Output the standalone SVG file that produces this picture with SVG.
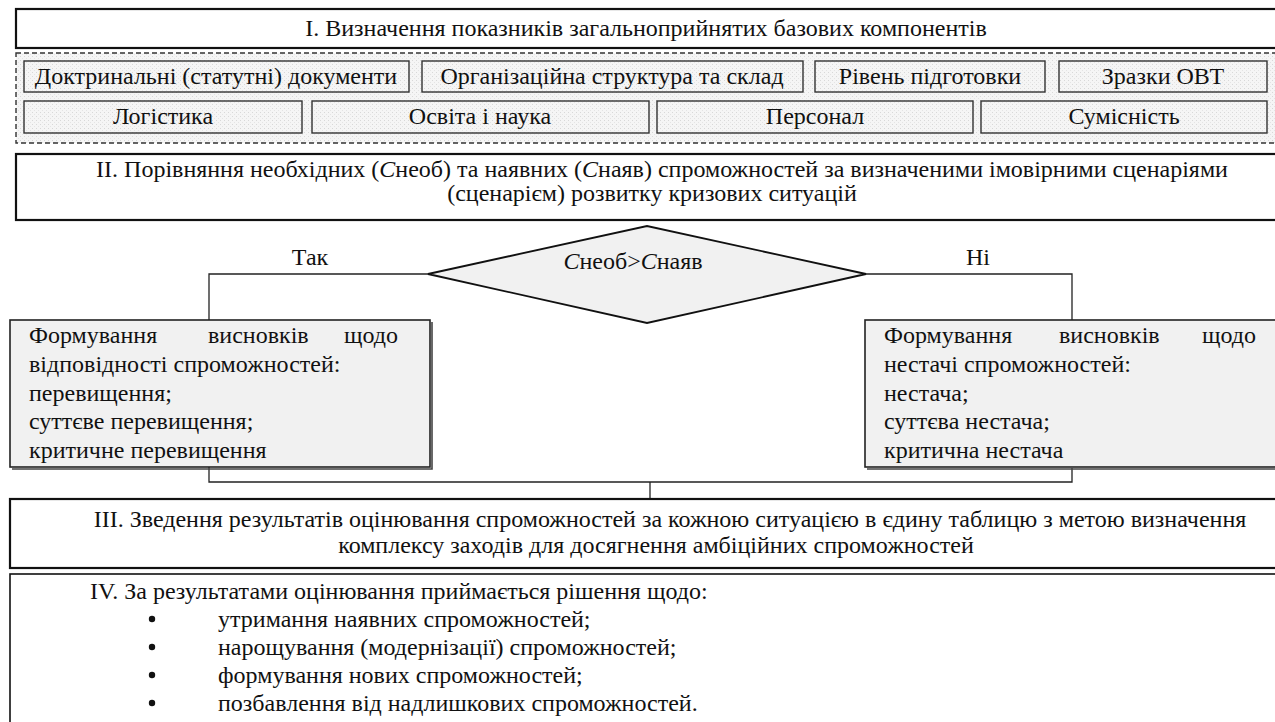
<svg xmlns="http://www.w3.org/2000/svg" width="1275" height="722" viewBox="0 0 1275 722">
<style>
text{fill:#111}
.c{text-anchor:middle}
.e{text-anchor:end}
.main{fill:#fff;stroke:#111;stroke-width:2.2}
.cell{fill:url(#dots);stroke:#333;stroke-width:1.4}
.side{fill:#f1f1f1;stroke:#222;stroke-width:1.6}
.shadow{fill:none;stroke:#444;stroke-width:1.6}
.conn{fill:none;stroke:#222;stroke-width:1.3}
</style>
<defs>
<pattern id="dots" width="4" height="4" patternUnits="userSpaceOnUse">
<rect width="4" height="4" fill="#f5f5f5"/>
<rect x="0" y="0" width="1" height="1" fill="#d8d8d8"/>
<rect x="2" y="2" width="1" height="1" fill="#e4e4e4"/>
</pattern>
</defs>
<rect width="1275" height="722" fill="#fff"/>

<g id="step1">
<rect class="main" x="16" y="9" width="1280" height="39"/>
<text class="c" x="646" y="36" font-family="Liberation Serif" font-size="24">I. Визначення показників загальноприйнятих базових компонентів</text>
</g>

<g id="components">
<rect x="16" y="53" width="1280" height="90" fill="url(#dots)" stroke="#333" stroke-width="1.4" stroke-dasharray="5,3"/>
<g id="c1"><rect class="cell" x="24" y="61" width="385" height="31"/><text class="c" x="216" y="84" font-family="Liberation Serif" font-size="24">Доктринальні (статутні) документи</text></g>
<g id="c2"><rect class="cell" x="422" y="61" width="381" height="31"/><text class="c" x="612" y="84" font-family="Liberation Serif" font-size="24">Організаційна структура та склад</text></g>
<g id="c3"><rect class="cell" x="815" y="61" width="230" height="31"/><text class="c" x="930" y="84" font-family="Liberation Serif" font-size="24">Рівень підготовки</text></g>
<g id="c4"><rect class="cell" x="1059" y="61" width="208" height="31"/><text class="c" x="1163" y="84" font-family="Liberation Serif" font-size="24">Зразки ОВТ</text></g>
<g id="c5"><rect class="cell" x="24" y="101" width="278" height="32"/><text class="c" x="163" y="124" font-family="Liberation Serif" font-size="24">Логістика</text></g>
<g id="c6"><rect class="cell" x="312" y="101" width="337" height="32"/><text class="c" x="480" y="124" font-family="Liberation Serif" font-size="24">Освіта і наука</text></g>
<g id="c7"><rect class="cell" x="657" y="101" width="316" height="32"/><text class="c" x="815" y="124" font-family="Liberation Serif" font-size="24">Персонал</text></g>
<g id="c8"><rect class="cell" x="981" y="101" width="286" height="32"/><text class="c" x="1124" y="124" font-family="Liberation Serif" font-size="24">Сумісність</text></g>
</g>

<g id="step2">
<rect class="main" x="16" y="154" width="1280" height="66"/>
<text class="c" x="662" y="177" font-family="Liberation Serif" font-size="24">II. Порівняння необхідних (<tspan font-style="italic">С</tspan>необ) та наявних (<tspan font-style="italic">С</tspan>наяв) спроможностей за визначеними імовірними сценаріями</text>
<text class="c" x="652" y="201" font-family="Liberation Serif" font-size="24">(сценарієм) розвитку кризових ситуацій</text>
</g>

<g id="connectors">
<polyline class="conn" points="428,274 209,274 209,320"/>
<polyline class="conn" points="866,274 1072,274 1072,320"/>
<polyline class="conn" points="209,467 209,482 1072,482 1072,468"/>
<line class="conn" x1="650" y1="482" x2="650" y2="499"/>
</g>

<g id="decision">
<polygon points="428,274 647,226 866,274 647,323" fill="#f1f1f1" stroke="#111" stroke-width="1.8"/>
<text class="c" x="633" y="269" font-family="Liberation Serif" font-size="24"><tspan font-style="italic">С</tspan>необ&gt;<tspan font-style="italic">С</tspan>наяв</text>
</g>
<text id="lbl-yes" class="c" x="310" y="265" font-family="Liberation Serif" font-size="24">Так</text>
<text id="lbl-no" class="c" x="978" y="265" font-family="Liberation Serif" font-size="24">Ні</text>

<g id="yes-box">
<rect class="side" x="10" y="320" width="420" height="147"/>
<polyline class="shadow" points="432,322 432,469 12,469"/>
<text x="29" y="343" font-family="Liberation Serif" font-size="24">Формування</text>
<text x="208" y="343" font-family="Liberation Serif" font-size="24">висновків</text>
<text class="e" x="398" y="343" font-family="Liberation Serif" font-size="24">щодо</text>
<text x="29" y="372" font-family="Liberation Serif" font-size="24">відповідності спроможностей:</text>
<text x="29" y="401" font-family="Liberation Serif" font-size="24">перевищення;</text>
<text x="29" y="429" font-family="Liberation Serif" font-size="24">суттєве перевищення;</text>
<text x="29" y="458" font-family="Liberation Serif" font-size="24">критичне перевищення</text>
</g>

<g id="no-box">
<rect class="side" x="865" y="320" width="430" height="147"/>
<line class="shadow" x1="867" y1="469" x2="1275" y2="469"/>
<text x="884" y="343" font-family="Liberation Serif" font-size="24">Формування</text>
<text x="1059" y="343" font-family="Liberation Serif" font-size="24">висновків</text>
<text class="e" x="1256" y="343" font-family="Liberation Serif" font-size="24">щодо</text>
<text x="884" y="372" font-family="Liberation Serif" font-size="24">нестачі спроможностей:</text>
<text x="884" y="401" font-family="Liberation Serif" font-size="24">нестача;</text>
<text x="884" y="429" font-family="Liberation Serif" font-size="24">суттєва нестача;</text>
<text x="884" y="458" font-family="Liberation Serif" font-size="24">критична нестача</text>
</g>

<g id="step3">
<rect class="main" x="10" y="499" width="1290" height="69"/>
<text class="c" x="670" y="527" font-family="Liberation Serif" font-size="24">III. Зведення результатів оцінювання спроможностей за кожною ситуацією в єдину таблицю з метою визначення</text>
<text class="c" x="656" y="553" font-family="Liberation Serif" font-size="24">комплексу заходів для досягнення амбіційних спроможностей</text>
</g>

<g id="step4">
<rect x="10" y="574" width="1290" height="160" fill="#fff" stroke="#111" stroke-width="1.6"/>
<text x="90" y="599" font-family="Liberation Serif" font-size="24">IV. За результатами оцінювання приймається рішення щодо:</text>
<circle cx="152" cy="619" r="3.2" fill="#111"/>
<text x="218" y="627" font-family="Liberation Serif" font-size="24">утримання наявних спроможностей;</text>
<circle cx="152" cy="647" r="3.2" fill="#111"/>
<text x="218" y="655" font-family="Liberation Serif" font-size="24">нарощування (модернізації) спроможностей;</text>
<circle cx="152" cy="675" r="3.2" fill="#111"/>
<text x="218" y="683" font-family="Liberation Serif" font-size="24">формування нових спроможностей;</text>
<circle cx="152" cy="703" r="3.2" fill="#111"/>
<text x="218" y="711" font-family="Liberation Serif" font-size="24">позбавлення від надлишкових спроможностей.</text>
</g>
</svg>
